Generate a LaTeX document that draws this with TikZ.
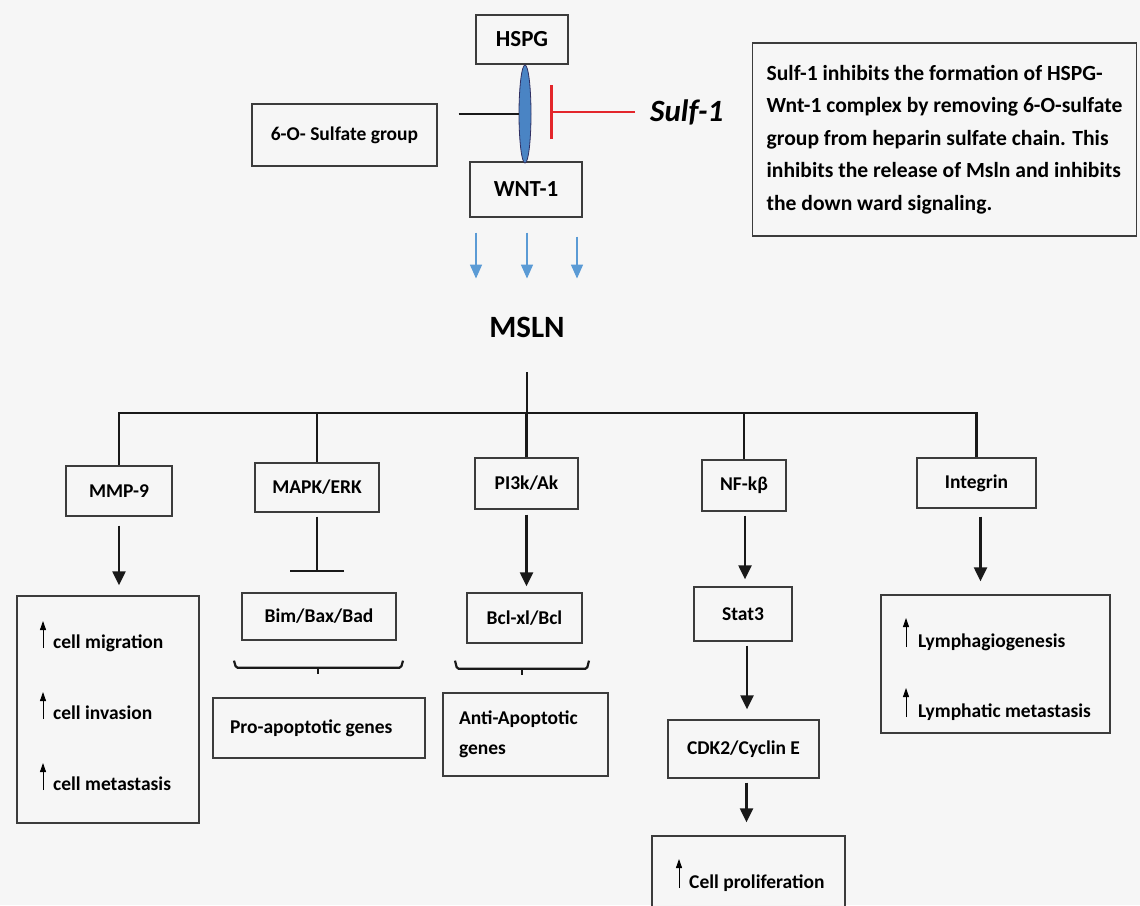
\documentclass[tikz,border=0pt]{standalone}
\usepackage{fontspec}
\setmainfont{Carlito}
\usepackage{tikz}
\usetikzlibrary{shapes.geometric, arrows.meta, positioning}

\definecolor{bggray}{HTML}{F6F6F6}
\definecolor{edgegray}{HTML}{3C3C3C}
\definecolor{cplxblue}{HTML}{4A84C4}
\definecolor{flowblue}{HTML}{5B9BD5}
\definecolor{sulfred}{HTML}{E3262B}

\begin{document}
\begin{tikzpicture}[
    x=1pt, y=-1pt,
    box/.style={rectangle, draw=edgegray, line width=1.3pt, fill=bggray, inner sep=0pt,
                font=\fontsize{19.5}{23}\selectfont\bfseries, align=center},
    big/.style={font=\fontsize{23}{27}\selectfont\bfseries},
    item/.style={anchor=base west, inner sep=0pt, font=\fontsize{19.5}{23}\selectfont\bfseries},
    ln/.style={line width=2.2pt, black!90},
    arr/.style={ln, -{Triangle[width=13pt, length=14pt]}},
    inh/.style={ln, -{Bar[width=54pt]}},
    flow/.style={line width=1.6pt, flowblue, -{Triangle[width=12pt, length=14pt]}},
    upar/.style={line width=0.9pt, -{Triangle[width=6pt, length=9pt]}},
    brk/.style={line width=2.2pt, black!90, rounded corners=1.5pt}
  ]
  \useasboundingbox[fill=bggray] (0,0) rectangle (1140,905);

  % HSPG / Wnt-1 complex
  \node[box, big, minimum width=92pt, minimum height=49pt] (hspg) at (522,39.5) {HSPG};
  \node[box, big, minimum width=112pt, minimum height=55pt] (wnt) at (526,189.5) {WNT-1};
  \node[box, minimum width=185pt, minimum height=62pt] (sulfgrp) at (344.5,135) {6-O- Sulfate group};
  \node[ellipse, draw=edgegray!80!blue, line width=0.8pt, fill=cplxblue, inner sep=0pt,
        minimum width=12pt, minimum height=98pt] (cplx) at (525,114) {};
  \node[anchor=west, inner sep=0pt, font=\fontsize{31}{35}\selectfont\bfseries\itshape] (sulf) at (650,112) {Sulf-1};
  \node[box, minimum width=383pt, minimum height=193pt, inner xsep=14pt, align=left,
        font=\fontsize{21.6}{32.5}\selectfont\bfseries] (info) at (944.5,139.5)
        {Sulf-1 inhibits the formation of HSPG-\\
         Wnt-1 complex by removing 6-O-sulfate\\
         group from heparin sulfate chain. This\\
         inhibits the release of Msln and inhibits\\
         the down ward signaling.};

  \draw[ln, shorten <=21pt] (sulfgrp.east |- cplx.west) -- (cplx.west);
  \draw[inh, sulfred, line width=2.6pt, shorten <=15pt, shorten >=19pt] (sulf.west) -- (sulf.west -| cplx.east);

  % release of MSLN
  \node[inner sep=0pt, font=\fontsize{31}{35}\selectfont\bfseries] (mslnt) at (527,327) {MSLN};
  \draw[flow, shorten <=15pt, shorten >=38pt] ([xshift=-50pt]wnt.south) -- ([xshift=-50pt]wnt.south |- mslnt.north);
  \draw[flow, shorten <=15pt, shorten >=38pt] ([xshift=1pt]wnt.south) -- ([xshift=1pt]wnt.south |- mslnt.north);
  \draw[flow, shorten <=19pt, shorten >=38pt] ([xshift=51pt]wnt.south) -- ([xshift=51pt]wnt.south |- mslnt.north);

  % pathways
  \node[box, minimum width=106pt, minimum height=50pt] (mmp) at (119,491) {MMP-9};
  \node[box, minimum width=124pt, minimum height=49pt] (mapk) at (317,487.5) {MAPK/ERK};
  \node[box, minimum width=103pt, minimum height=51pt] (pi3k) at (526.5,483.5) {PI3k/Ak};
  \node[box, minimum width=84pt, minimum height=51pt] (nfkb) at (744,485.5) {NF-kβ};
  \node[box, minimum width=119pt, minimum height=50pt] (integ) at (976.5,483) {Integrin};

  \coordinate (hub) at (527,413);
  \draw[ln, shorten <=35pt] (mslnt.south) -- (hub);
  \draw[ln] (mmp.north) -- (mmp.north |- hub) -- (integ.north |- hub) -- (integ.north);
  \draw[ln] (mapk.north) -- (mapk.north |- hub);
  \draw[ln] (pi3k.north) -- (pi3k.north |- hub);
  \draw[ln] (nfkb.north) -- (nfkb.north |- hub);

  % MMP-9 branch
  \node[box, minimum width=182pt, minimum height=227pt] (mmpres) at (108,709.5) {};
  \node[item] (mig) at (53,648) {cell migration};
  \node[item] (inv) at (53,719) {cell invasion};
  \node[item] (met) at (53,790) {cell metastasis};
  \draw[upar] ([xshift=-10pt]mig.base west) -- ++(0,-27);
  \draw[upar] ([xshift=-10pt]inv.base west) -- ++(0,-27);
  \draw[upar] ([xshift=-10pt]met.base west) -- ++(0,-27);
  \draw[arr, shorten <=9pt, shorten >=10pt] (mmp.south) -- (mmp.south |- mmpres.north);

  % MAPK/ERK branch
  \node[box, minimum width=154pt, minimum height=47pt] (bim) at (319,616.5) {Bim/Bax/Bad};
  \node[box, minimum height=60pt, inner xsep=17pt, text width=178pt, align=flush left] (pro) at (319,728) {Pro-apoptotic genes};
  \draw[inh, shorten <=4pt, shorten >=20pt] (mapk.south) -- (mapk.south |- bim.north);
  \draw[brk] (bim.south) ++(-85,20) -- ++(2,7) -- ++(165,0) -- ++(2,-7);
  \draw[brk] (bim.south) ++(-1,27) -- ++(0,6);

  % PI3k/Ak branch
  \node[box, minimum width=115pt, minimum height=50pt] (bcl) at (524.5,618) {Bcl-xl/Bcl};
  \node[box, minimum height=83pt, inner xsep=16pt, text width=133pt, align=flush left,
        font=\fontsize{19.5}{30}\selectfont\bfseries] (anti) at (525.5,734.5) {Anti-Apoptotic\\genes};
  \draw[arr, shorten <=5pt, shorten >=6pt] (pi3k.south) -- (pi3k.south |- bcl.north);
  \draw[brk] (bcl.south) ++(-69.5,17) -- ++(2,8) -- ++(130,0) -- ++(2,-8);
  \draw[brk] (bcl.south) ++(-2.5,25) -- ++(0,6);

  % NF-kB branch
  \node[box, minimum width=98pt, minimum height=54pt] (stat) at (743,614) {Stat3};
  \node[box, minimum width=151pt, minimum height=58pt] (cdk) at (743.5,749) {CDK2/Cyclin E};
  \node[box, minimum width=193pt, minimum height=80pt] (prolif) at (748.5,876) {};
  \node[item] (prol) at (689,888) {Cell proliferation};
  \draw[upar] ([xshift=-10pt]prol.base west) -- ++(0,-29);
  \draw[arr, shorten <=4pt, shorten >=7pt] ([xshift=1pt]nfkb.south) -- ([xshift=1pt]nfkb.south |- stat.north);
  \draw[arr, shorten <=4pt, shorten >=10pt] ([xshift=4pt]stat.south) -- ([xshift=4pt]stat.south |- cdk.north);
  \draw[arr, shorten <=4pt, shorten >=13pt] ([xshift=3pt]cdk.south) -- ([xshift=3pt]cdk.south |- prolif.north);

  % Integrin branch
  \node[box, minimum width=229pt, minimum height=138pt] (lymph) at (995.5,664) {};
  \node[item] (lga) at (918,647) {Lymphagiogenesis};
  \node[item] (lmet) at (918,717) {Lymphatic metastasis};
  \draw[upar] ([xshift=-12pt]lga.base west) -- ++(0,-29);
  \draw[upar] ([xshift=-12pt]lmet.base west) -- ++(0,-29);
  \draw[arr, shorten <=8pt, shorten >=13pt] ([xshift=4pt]integ.south) -- ([xshift=4pt]integ.south |- lymph.north);
\end{tikzpicture}
\end{document}
